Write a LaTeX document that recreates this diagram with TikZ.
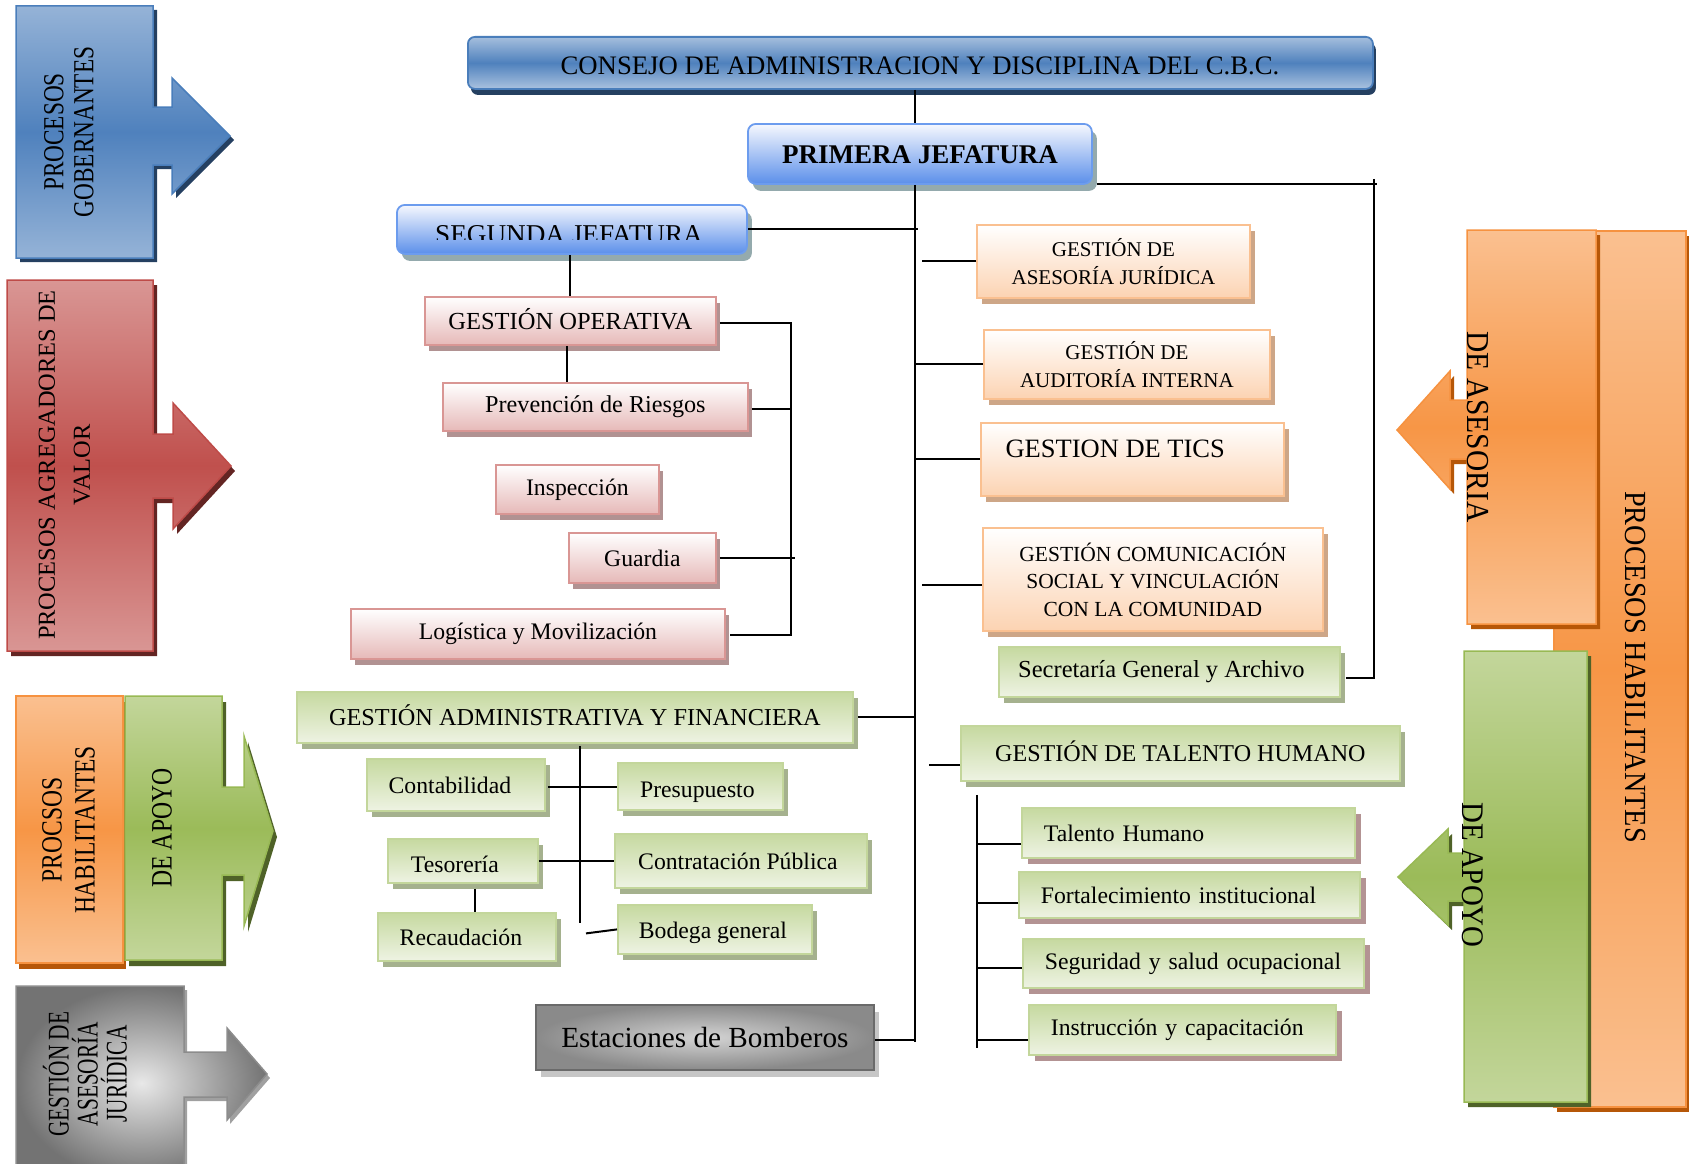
\documentclass[tikz,border=0pt]{standalone}
\usepackage{fontspec}
\setmainfont{Liberation Serif}
\newfontfamily\sA[FakeStretch=0.8]{Liberation Serif}
\newfontfamily\sB[FakeStretch=0.71]{Liberation Serif}
\newfontfamily\sC[FakeStretch=0.92]{Liberation Serif}
\usetikzlibrary{shadows,calc}
\definecolor{blueL}{HTML}{95B3D7}
\definecolor{blueM}{HTML}{4F81BD}
\definecolor{blueB}{HTML}{4A7EBB}
\definecolor{blueS}{HTML}{254061}
\definecolor{redL}{HTML}{D99694}
\definecolor{redM}{HTML}{C0504D}
\definecolor{redB}{HTML}{BE4B48}
\definecolor{redS}{HTML}{632523}
\definecolor{orL}{HTML}{FAC090}
\definecolor{orM}{HTML}{F79646}
\definecolor{orB}{HTML}{F69240}
\definecolor{orS}{HTML}{B65708}
\definecolor{grL}{HTML}{C3D69B}
\definecolor{grM}{HTML}{9BBB59}
\definecolor{grB}{HTML}{98B954}
\definecolor{grS}{HTML}{4F6228}
\definecolor{jefT}{HTML}{F6F8FE}
\definecolor{jefF}{HTML}{5B8FEA}
\definecolor{jefB}{HTML}{6C9CEE}
\definecolor{jefS}{HTML}{94AAAD}
\definecolor{pinkB}{HTML}{D99694}
\definecolor{pinkF}{HTML}{E6B9B8}
\definecolor{pinkS}{HTML}{B19292}
\definecolor{peachB}{HTML}{FAC090}
\definecolor{peachF}{HTML}{FCD3B2}
\definecolor{peachS}{HTML}{CDA687}
\definecolor{gbT}{HTML}{C6D9A0}
\definecolor{gbF}{HTML}{EEF3E3}
\definecolor{gbB}{HTML}{C3D69B}
\definecolor{gbS}{HTML}{A5B18E}
\definecolor{gbS2}{HTML}{B39393}
\definecolor{esB}{HTML}{6A6A6A}
\definecolor{esS}{HTML}{C6C6C6}
\definecolor{esIn}{HTML}{D4D4D4}
\definecolor{esOut}{HTML}{8A8A8A}
\definecolor{gyB}{HTML}{8C8C8C}
\definecolor{gyS}{HTML}{A0A0A0}
\begin{document}
\begin{tikzpicture}[x=1pt,y=-1pt,
  conn/.style={draw=black, line width=2pt},
  box/.style={anchor=north west, inner sep=0pt, line width=1.8pt, align=center},
  caps/.style={text height=#1, text depth=0pt},
  small/.style={font=\fontsize{23.7}{28}\selectfont},
  peachtxt/.style={font=\fontsize{21}{28}\selectfont},
  consejobox/.style={box, rounded corners=7pt, draw=blueB, top color=blueL!85!white, bottom color=blueL!80!white, middle color=blueM,
    drop shadow={shadow xshift=3pt,shadow yshift=-6pt,fill=blueS,opacity=1}},
  jefbox/.style={box, rounded corners=8pt, draw=jefB, top color=jefT, bottom color=jefF,
    drop shadow={shadow xshift=5pt,shadow yshift=-7pt,fill=jefS,opacity=1}},
  pinkbox/.style={box, draw=pinkB, top color=white, bottom color=pinkF,
    drop shadow={shadow xshift=4pt,shadow yshift=-6pt,fill=pinkS,opacity=1}},
  peachbox/.style={box, draw=peachB, top color=white, bottom color=peachF,
    drop shadow={shadow xshift=5pt,shadow yshift=-6pt,fill=peachS,opacity=1}},
  greenbox/.style={box, draw=gbB, top color=gbT, bottom color=gbF,
    drop shadow={shadow xshift=5pt,shadow yshift=-6pt,fill=gbS,opacity=1}},
  greenboxb/.style={box, draw=gbB, top color=gbT, bottom color=gbF, align=left, inner xsep=22pt,
    drop shadow={shadow xshift=6pt,shadow yshift=-6pt,fill=gbS2,opacity=1}},
  greybox/.style={box, draw=esB, shading=radial, inner color=esIn, outer color=esOut,
    drop shadow={shadow xshift=5pt,shadow yshift=-7pt,fill=esS,opacity=1}},
]
\useasboundingbox (0,0) rectangle (1689,1164);

% ---------- left process arrows ----------
\shade[top color=blueL, bottom color=blueL, middle color=blueM, draw=blueB, line width=1.5pt,
  drop shadow={shadow xshift=4pt,shadow yshift=-4pt,fill=blueS,opacity=1}]
  (16,6) -- (153,6) -- (153,107) -- (172,107) -- (172,78) -- (230,136) -- (172,194) -- (172,165)
  -- (153,165) -- (153,258) -- (16,258) -- cycle;
\node[rotate=90, align=center, font=\sA\fontsize{29.1}{30}\selectfont] (tGob) at (69,132) {PROCESOS\\GOBERNANTES};

\shade[top color=redL, bottom color=redL, middle color=redM, draw=redB, line width=1.5pt,
  drop shadow={shadow xshift=4pt,shadow yshift=-5pt,fill=redS,opacity=1}]
  (7,280) -- (153,280) -- (153,434) -- (173,434) -- (173,403) -- (231,466) -- (173,529) -- (173,498)
  -- (153,498) -- (153,651) -- (7,651) -- cycle;
\node[rotate=90, align=center, font=\fontsize{24.4}{35}\selectfont] (tAgr) at (64.5,465) {PROCESOS AGREGADORES DE\\VALOR};

\shade[top color=orL, bottom color=orL, middle color=orM, draw=orB, line width=1.5pt,
  drop shadow={shadow xshift=3pt,shadow yshift=-6pt,fill=orS,opacity=1}]
  (16,696) rectangle (123,963);
\node[rotate=90, align=center, font=\sA\fontsize{29.4}{33}\selectfont] (tHabL) at (68.5,830) {PROCSOS\\HABILITANTES};

\shade[top color=grL, bottom color=grL, middle color=grM, draw=grB, line width=1.5pt,
  drop shadow={shadow xshift=4pt,shadow yshift=-6pt,fill=grS,opacity=1}]
  (125,696) -- (222,696) -- (222,787) -- (244,787) -- (244,736) -- (273,831) -- (244,926) -- (244,875)
  -- (222,875) -- (222,960) -- (125,960) -- cycle;
\node[rotate=90, font=\sA\fontsize{29.6}{33}\selectfont] (tApoyoL) at (162,828) {DE APOYO};

\shade[shading=radial, inner color=gray!18, outer color=gray!90!black, draw=gyB, line width=1.5pt,
  drop shadow={shadow xshift=3pt,shadow yshift=-4pt,fill=gyS,opacity=1}]
  (16,986) -- (184,986) -- (184,1052) -- (227,1052) -- (227,1028) -- (267,1074) -- (227,1120) -- (227,1097)
  -- (184,1097) -- (184,1180) -- (16,1180) -- cycle;
\node[rotate=90, align=center, font=\sB\fontsize{30}{29}\selectfont] (tJur) at (85,1074) {GESTIÓN DE\\ASESORÍA\\JURÍDICA};

% ---------- right process blocks ----------
\shade[top color=orL, bottom color=orL, middle color=orM, draw=orB, line width=1.5pt,
  drop shadow={shadow xshift=3pt,shadow yshift=-5pt,fill=orS,opacity=1}]
  (1554,231) rectangle (1686,1107);
\node[rotate=-90, font=\sC\fontsize{30.7}{36}\selectfont] (tHabR) at (1635,667) {PROCESOS HABILITANTES};

\shade[top color=orL, bottom color=orL, middle color=orM, draw=orB, line width=1.5pt,
  drop shadow={shadow xshift=4pt,shadow yshift=-5pt,fill=orS,opacity=1}]
  (1467,230) -- (1596,230) -- (1596,624) -- (1467,624) -- (1467,459) -- (1450,459) -- (1450,489)
  -- (1397,430) -- (1450,371) -- (1450,400) -- (1467,400) -- cycle;
\node[rotate=-90, font=\sC\fontsize{32}{36}\selectfont] (tAses) at (1478,427) {DE ASESORIA};

\shade[top color=grL, bottom color=grL, middle color=grM, draw=grB, line width=1.5pt,
  drop shadow={shadow xshift=4pt,shadow yshift=-5pt,fill=grS,opacity=1}]
  (1464,651) -- (1587,651) -- (1587,1102) -- (1464,1102) -- (1464,901) -- (1448,901) -- (1448,925)
  -- (1398,877) -- (1448,829) -- (1448,853) -- (1464,853) -- cycle;
\node[rotate=-90, font=\sC\fontsize{31.4}{36}\selectfont] (tApoyoR) at (1473,875) {DE APOYO};

% ---------- org chart boxes ----------
\node[consejobox, minimum width=905pt, minimum height=52pt] (consejo) at (467,36) {};
\node[caps=18.2pt, font=\fontsize{26.7}{30}\selectfont] (consejoT) at (920,65) {CONSEJO DE ADMINISTRACION Y DISCIPLINA DEL C.B.C.};

\node[jefbox, caps=18.4pt, minimum width=344pt, minimum height=60pt, font=\bfseries\fontsize{27}{30}\selectfont] (primera) at (747,123) {PRIMERA JEFATURA};

\node[jefbox, minimum width=350pt, minimum height=49pt] (segunda) at (396,204) {};
\begin{scope}
  \clip (396,204) rectangle (746,239.5);
  \node[caps=18.5pt, font=\fontsize{27.2}{30}\selectfont] (segundaT) at (569,234) {SEGUNDA JEFATURA};
\end{scope}

\node[pinkbox, caps=16.7pt, minimum width=291pt, minimum height=48pt, font=\fontsize{24.5}{28}\selectfont] (go) at (424,296) {GESTIÓN OPERATIVA};
\node[pinkbox, minimum width=305pt, minimum height=48pt, font=\fontsize{24.2}{28}\selectfont] (prevencion) at (442,382) {Prevención de Riesgos};
\node[pinkbox, small, minimum width=163pt, minimum height=49pt] (inspeccion) at (495,464) {Inspección};
\node[pinkbox, small, minimum width=147pt, minimum height=50pt] (guardia) at (568,532) {Guardia};
\node[pinkbox, small, minimum width=374pt, minimum height=50pt] (logistica) at (350,608) {Logística y Movilización};

\node[peachbox, peachtxt, minimum width=273pt, minimum height=73pt] (asesoria) at (976,224) {GESTIÓN DE\\ASESORÍA JURÍDICA};
\node[peachbox, peachtxt, minimum width=286pt, minimum height=69pt] (auditoria) at (983,329) {GESTIÓN DE\\AUDITORÍA INTERNA};
\node[peachbox, minimum width=303pt, minimum height=73pt] (tics) at (980,422) {};
\node[caps=18pt, anchor=west, font=\fontsize{26.5}{30}\selectfont] (ticsT) at (1002,448) {GESTION DE TICS};
\node[peachbox, font=\fontsize{21.5}{27.5}\selectfont, minimum width=340pt, minimum height=103pt] (comunicacion) at (982,527) {GESTIÓN COMUNICACIÓN\\SOCIAL Y VINCULACIÓN\\CON LA COMUNIDAD};
\node[greenbox, font=\fontsize{24.5}{28}\selectfont, minimum width=341pt, minimum height=50pt] (secretaria) at (998,646) {Secretaría General y Archivo\hspace*{16pt}};

\node[greenbox, caps=16.5pt, font=\fontsize{24.3}{28}\selectfont, minimum width=556pt, minimum height=51pt] (gaf) at (296,691) {GESTIÓN ADMINISTRATIVA Y FINANCIERA};
\node[greenbox, small, minimum width=178pt, minimum height=52pt] (contabilidad) at (366,758) {Contabilidad\hspace*{12pt}};
\node[greenbox, small, minimum width=165pt, minimum height=47pt, text height=27pt, text depth=5pt] (presupuesto) at (617,762) {Presupuesto\hspace*{6pt}};
\node[greenbox, small, minimum width=150pt, minimum height=44pt, text height=23pt, text depth=0pt] (tesoreria) at (387,838) {Tesorería\hspace*{16pt}};
\node[greenbox, small, minimum width=252pt, minimum height=54pt] (contratacion) at (614,833) {Contratación Pública\hspace*{6pt}};
\node[greenbox, small, minimum width=178pt, minimum height=48pt] (recaudacion) at (377,912) {Recaudación\hspace*{12pt}};
\node[greenbox, small, minimum width=194pt, minimum height=49pt, text height=22.5pt, text depth=5.2pt] (bodega) at (617,904) {Bodega general\hspace*{4pt}};

\node[greybox, font=\fontsize{29.2}{34}\selectfont, minimum width=338pt, minimum height=65pt] (estaciones) at (535,1004) {Estaciones de Bomberos};

\node[greenbox, caps=16.4pt, font=\fontsize{24.1}{28}\selectfont, minimum width=439pt, minimum height=55pt] (talento) at (960,725) {GESTIÓN DE TALENTO HUMANO};
\node[greenboxb, small, text width=289pt, minimum height=50pt] (th) at (1021,807) {Talento Humano};
\node[greenboxb, small, text width=297pt, minimum height=46pt] (fort) at (1018,871) {Fortalecimiento institucional};
\node[greenboxb, small, text width=297pt, minimum height=49pt] (seg) at (1022,938) {Seguridad y salud ocupacional};
\node[greenboxb, small, text width=263pt, minimum height=50pt] (instr) at (1028,1004) {Instrucción y capacitación};

% ---------- connectors ----------
\coordinate (tx) at (915,0);
\coordinate (rx) at (1374,0);
\coordinate (bx) at (791,0);
\coordinate (gx) at (580,0);
\coordinate (sx) at (977,0);

\draw[conn] (consejo.south -| tx) -- (primera.north -| tx);
\draw[conn] (primera.south -| tx) -- ($(estaciones.east -| tx)+(0,5)$);
\draw[conn] (segunda.east) -- ($(segunda.east -| tx)+(3,0)$);
\draw[conn] (asesoria.west) -- ++(-54,0);
\draw[conn] (auditoria.west) -- (auditoria.west -| tx);
\draw[conn] (tics.west) -- (tics.west -| tx);
\draw[conn] ($(comunicacion.west)+(0,6)$) -- ++(-60,0);
\draw[conn] ($(gaf.east)+(4,0)$) -- (gaf.east -| tx);
\draw[conn] ($(estaciones.east)+(0,2.5)$) -- ($(estaciones.east -| tx)+(0,2.5)$);

\draw[conn] ($(primera.south east)+(4,-1)$) -- ($(primera.south east -| rx)+(3,-1)$);
\draw[conn] ($(primera.south -| rx)+(0,-6)$) -- ($(secretaria.east -| rx)+(0,7)$);
\draw[conn] ($(secretaria.east)+(5,6)$) -- ($(secretaria.east -| rx)+(0,6)$);

\draw[conn] (segunda.south -| go.north) -- (go.north);
\draw[conn] ($(go.south)+(-3,0)$) -- ($(go.south |- prevencion.north)+(-3,0)$);
\draw[conn] ($(go.east)+(3,2)$) -- ($(go.east -| bx)+(0,2)$) -- ($(logistica.east -| bx)+(0,1)$) -- ($(logistica.east)+(4,1)$);
\draw[conn] ($(prevencion.east)+(3,2)$) -- ($(prevencion.east -| bx)+(0,2)$);
\draw[conn] ($(guardia.east)+(3,0)$) -- ($(guardia.east -| bx)+(4,0)$);

\draw[conn] ($(gaf.south -| gx)+(0,2)$) -- ($(bodega.west -| gx)+(0,-6)$);
\draw[conn] ($(contabilidad.east)+(2,2)$) -- ($(contabilidad.east -| presupuesto.west)+(0,2)$);
\draw[conn] (tesoreria.east) -- (tesoreria.east -| contratacion.west);
\draw[conn] ($(tesoreria.south)+(12,5)$) -- ($(tesoreria.south |- recaudacion.north)+(12,0)$);
\draw[conn] (bodega.west) -- ++(-31,4);

\draw[conn] ($(talento.west)+(0,12)$) -- ++(-31,0);
\draw[conn] ($(talento.south -| sx)+(0,13)$) -- ($(instr.west -| sx)+(0,18)$);
\draw[conn] ($(th.west)+(0,11)$) -- ($(th.west -| sx)+(0,11)$);
\draw[conn] ($(fort.west)+(0,8)$) -- ($(fort.west -| sx)+(0,8)$);
\draw[conn] ($(seg.west)+(0,5)$) -- ($(seg.west -| sx)+(0,5)$);
\draw[conn] ($(instr.west)+(0,10)$) -- ($(instr.west -| sx)+(0,10)$);
\end{tikzpicture}
\end{document}
